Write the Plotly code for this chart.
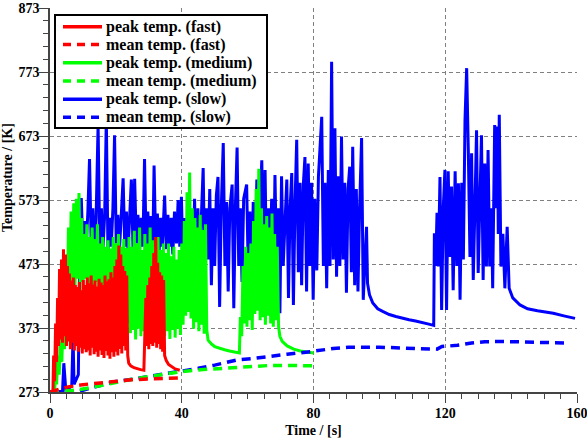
import plotly.graph_objects as go

# ---------------- data ----------------
fast_t = [0.0, 0.9, 1.1, 1.4, 1.7, 2.0, 2.3, 2.6, 2.9, 3.2, 3.5, 3.8, 4.1, 4.4, 4.7, 5.0, 5.3, 5.6, 5.9, 6.2,
          6.5, 6.8, 7.1, 7.4, 7.7, 8.0, 8.3, 8.6, 8.9, 9.2, 9.5, 9.8, 10.1, 10.4, 10.7, 11.0, 11.3, 11.6, 11.9,
          12.2, 12.5, 12.8, 13.1, 13.4, 13.7, 14.0, 14.3, 14.6, 14.9, 15.2, 15.5, 15.8, 16.1, 16.4, 16.7, 17.0,
          17.3, 17.6, 17.9, 18.2, 18.5, 18.8, 19.1, 19.4, 19.7, 20.0, 20.3, 20.6, 20.9, 21.2, 21.5, 21.8, 22.1,
          22.4, 22.7, 23.0, 23.3, 23.6, 23.9, 24.5, 25.5, 26.5, 27.5, 28.5, 28.8, 29.1, 29.4, 29.7, 30.0, 30.3,
          30.6, 30.9, 31.2, 31.5, 31.8, 32.1, 32.4, 32.7, 33.0, 33.3, 33.6, 33.9, 34.2, 34.5, 34.8, 35.3, 36.0,
          37.0, 38.0, 39.4]
fast_peak = [273, 274, 330, 290, 380, 320, 420, 345, 465, 355, 480, 350, 496, 360, 488, 345, 470, 352, 458, 340,
             447, 350, 452, 338, 440, 345, 437, 336, 445, 342, 432, 333, 448, 340, 440, 335, 452, 338, 443,
             330, 455, 342, 441, 332, 447, 336, 438, 328, 450, 338, 444, 331, 440, 326, 455, 337,
             446, 330, 449, 325, 460, 335, 452, 328, 470, 336, 480, 330, 502, 340, 488, 333, 470,
             345, 462, 338, 455, 330, 318, 314, 311, 309, 308, 307, 360, 420, 345, 440, 340, 452,
             348, 470, 345, 490, 350, 515, 342, 475, 348, 460, 340, 455, 336, 448, 330, 322, 316,
             312, 309, 307]

fast_mean_t = [0.0, 2.0, 5.5, 10.0, 14.6, 20.0, 24.7, 30.0, 34.8, 39.5]
fast_mean = [273, 276, 281, 284.5, 287, 290, 292, 293.5, 294.5, 295]

medium_t = [0.0, 1.4, 1.7, 2.0, 2.4, 2.8, 3.2, 3.6, 4.0, 4.4, 4.8, 5.2, 5.6, 6.0, 6.4, 6.8, 7.2, 7.6, 8.0, 8.4,
            8.8, 9.2, 9.6, 10.0, 10.4, 10.8, 11.2, 11.6, 12.0, 12.4, 12.8, 13.2, 13.6, 14.0, 14.4, 14.8, 15.2,
            15.6, 16.0, 16.4, 16.8, 17.2, 17.6, 18.0, 18.4, 18.8, 19.2, 19.6, 20.0, 20.4, 20.8, 21.2, 21.6, 22.0,
            22.4, 22.8, 23.2, 23.6, 24.0, 24.4, 24.8, 25.2, 25.6, 26.0, 26.4, 26.8, 27.2, 27.6, 28.0, 28.4, 28.8,
            29.2, 29.6, 30.0, 30.4, 30.8, 31.2, 31.6, 32.0, 32.4, 32.8, 33.2, 33.6, 34.0, 34.4, 34.8, 35.2, 35.6,
            36.0, 36.4, 36.8, 37.2, 37.6, 38.0, 38.4, 38.8, 39.2, 39.6, 40.0, 40.4, 40.8, 41.2, 41.6, 42.0, 42.4,
            42.8, 43.2, 43.6, 44.0, 44.4, 44.8, 45.2, 45.6, 46.0, 46.4, 46.8, 47.2, 47.6, 48.0, 49.0, 50.0, 51.5,
            53.0, 54.5, 56.0, 57.5, 57.8, 58.2, 58.6, 59.0, 59.4, 59.8, 60.2, 60.6, 61.0, 61.4, 61.8, 62.2, 62.6,
            63.0, 63.4, 63.8, 64.2, 64.6, 65.0, 65.4, 65.8, 66.2, 66.6, 67.0, 67.4, 67.8, 68.2, 68.6, 69.0, 69.4,
            69.8, 70.5, 72.0, 74.0, 76.0, 78.0, 80.0]
medium_peak = [273, 274, 300, 285, 330, 300, 360, 320, 390, 340, 470, 380, 530, 420, 555, 430, 568, 440, 575, 450,
               584, 445, 545, 430, 520, 450, 535, 420, 515, 440, 530, 425, 512, 445, 535, 430, 505,
               420, 515, 440, 500, 415, 510, 435, 497, 425, 515, 440, 505, 420, 520, 438, 500, 425,
               512, 400, 498, 380, 515, 365, 500, 370, 525, 355, 505, 372, 530, 360, 495, 368, 520,
               378, 505, 385, 530, 372, 510, 380, 500, 375, 515, 366, 495, 380, 505, 360, 490, 368,
               505, 356, 485, 370, 500, 358, 480, 372, 495, 362, 505, 378, 540, 392, 585, 398, 616,
               388, 560, 372, 545, 382, 530, 368, 550, 378, 526, 364, 535, 370, 354, 348, 344, 341,
               339, 337, 335, 334, 390, 360, 470, 380, 500, 375, 490, 385, 505, 370, 540, 395, 590,
               400, 622, 385, 560, 390, 535, 378, 548, 392, 530, 380, 552, 375, 520, 385, 500, 375,
               360, 352, 345, 340, 337, 335, 334]

medium_mean_t = [0.0, 4.0, 8.0, 12.0, 16.0, 20.0, 25.0, 30.0, 35.0, 40.0, 46.5, 51.0, 56.7, 61.7, 66.8, 72.0, 80.0]
medium_mean = [273, 274, 276, 279.5, 284, 288, 293, 297, 301, 305, 308, 309.5, 310.5, 313, 314.5, 314.5, 314]

slow_t = [0.0, 3.8, 4.2, 4.4, 4.8, 6.6, 7.0, 7.3, 8.6, 9.0, 9.5, 10.0, 10.5, 11.0, 11.5, 12.0, 12.5, 13.0, 13.5,
          14.0, 14.6, 15.1, 15.6, 16.1, 16.6, 17.1, 17.6, 18.1, 18.6, 19.1, 19.6, 20.1, 20.6, 21.1, 21.6, 22.2,
          22.7, 23.2, 23.7, 24.2, 24.7, 25.2, 25.7, 26.2, 26.7, 27.2, 27.7, 28.2, 28.7, 29.2, 29.7, 30.2, 30.7,
          31.2, 31.6, 32.1, 32.6, 33.1, 33.6, 34.1, 34.8, 35.3, 35.8, 36.3, 36.8, 37.3, 37.8, 38.4, 38.9, 39.4,
          39.9, 40.4, 40.9, 41.4, 41.9, 42.4, 42.9, 43.4, 43.9, 44.4, 44.9, 45.4, 46.0, 46.5, 47.0, 47.5, 48.0,
          48.5, 49.0, 49.5, 50.0, 50.5, 51.0, 51.5, 52.0, 52.6, 53.1, 53.6, 54.1, 54.6, 55.3, 55.8, 56.3, 56.8,
          57.3, 57.8, 58.3, 58.8, 59.7, 60.2, 60.7, 61.2, 61.7, 62.3, 62.8, 63.3, 63.8, 64.3, 64.8, 65.3, 65.8,
          66.3, 66.8, 67.3, 67.8, 68.3, 68.8, 69.3, 69.8, 70.3, 70.8, 71.4, 71.9, 72.4, 72.9, 73.4, 73.9, 74.4,
          74.9, 75.4, 75.9, 76.4, 76.9, 77.4, 77.9, 78.4, 78.9, 79.4, 79.9, 80.4, 81.0, 81.5, 82.0, 82.5, 83.0,
          83.5, 84.0, 84.5, 85.0, 85.5, 86.0, 86.5, 87.0, 87.5, 88.0, 88.5, 89.0, 89.5, 90.0, 90.5, 91.0, 91.5,
          91.9, 92.5, 93.0, 93.5, 94.0, 94.6, 95.1, 95.6, 96.1, 96.4, 97.0, 98.0, 99.5, 101.0, 103.0, 105.0,
          107.0, 109.0, 111.0, 113.0, 115.0, 116.5, 116.7, 117.1, 117.5, 117.9, 118.4, 118.9, 119.4, 119.9,
          120.4, 120.9, 121.4, 121.9, 122.4, 123.0, 123.5, 124.0, 124.5, 125.0, 125.5, 126.0, 126.5, 127.0,
          127.5, 128.0, 128.5, 129.0, 129.5, 130.0, 130.5, 131.0, 131.5, 132.0, 132.5, 133.0, 133.5, 134.0,
          134.4, 135.0, 135.5, 135.8, 136.1, 136.4, 136.9, 137.5, 138.1, 138.8, 139.4, 140.5, 142.7, 145.0,
          148.0, 152.8, 156.0, 159.4]
slow_peak = [273, 274, 318, 300, 276, 282, 360, 285, 300, 470, 576, 495, 540, 500, 555, 637, 505, 560, 495,
             545, 690, 500, 560, 498, 550, 700, 490, 545, 500, 560, 674, 505, 550, 495, 545, 607,
             500, 555, 492, 540, 605, 498, 606, 505, 550, 495, 545, 500, 637, 498, 555, 502, 548,
             495, 627, 500, 552, 490, 545, 500, 580, 496, 550, 500, 545, 488, 555, 505, 573, 500,
             578, 470, 545, 455, 560, 420, 550, 480, 575, 410, 560, 470, 565, 623, 455, 560, 480,
             590, 440, 560, 470, 580, 609, 406, 560, 662, 470, 570, 430, 560, 597, 404, 565, 655,
             470, 560, 445, 575, 597, 460, 555, 420, 570, 480, 605, 455, 565, 635, 470, 620, 440,
             560, 480, 575, 430, 612, 470, 560, 396, 610, 470, 560, 605, 420, 560, 615, 409, 570,
             667, 460, 600, 440, 596, 640, 430, 630, 470, 600, 417, 575, 463, 610, 656, 703, 470,
             600, 435, 620, 470, 789, 480, 685, 453, 610, 470, 672, 480, 600, 428, 590, 625, 460,
             656, 440, 590, 430, 560, 670, 417, 470, 531, 443, 425, 412, 403, 399, 394, 391,
             388, 386, 384, 381, 379, 377, 521, 470, 553, 469, 609, 401, 560, 620,
             401, 618, 484, 594, 432, 618, 470, 599, 417, 600, 480, 698, 779, 651,
             484, 646, 448, 560, 682, 459, 590, 674, 448, 630, 469, 651, 469, 560,
             435, 690, 560, 688, 520, 706, 469, 520, 435, 531, 435, 420, 409, 403,
             400, 396, 392, 388]

slow_mean_t = [0.0, 5.0, 9.0, 12.0, 15.0, 19.6, 25.0, 29.8, 35.0, 39.9, 45.0, 50.0, 56.7, 62.0, 66.8, 72.0, 79.0,
               82.0, 86.0, 90.5, 100.0, 111.0, 117.5, 119.0, 123.7, 128.0, 132.0, 137.0, 142.0, 150.0, 157.0]
slow_mean = [273, 273, 274, 279, 283.5, 289, 293, 297, 301, 305, 310, 315, 323, 325.5, 328, 332, 336,
             338.6, 341, 343, 343, 341, 340, 344, 346, 349.5, 351.6, 352, 351.6, 350.5, 349.5]

legend_labels = ["peak temp. (fast)", "mean temp. (fast)", "peak temp. (medium)",
                 "mean temp. (medium)", "peak temp. (slow)", "mean temp. (slow)"]
x_ticks = [0, 40, 80, 120, 160]
y_ticks = [273, 373, 473, 573, 673, 773, 873]

# ---------------- styles ----------------
RED, GREEN, BLUE = "#ff0000", "#00ff00", "#0000ff"
DASH = "9px,6px"
FONT = "Liberation Serif"

fig = go.Figure()
# drawing order: slow below medium below fast
for t, y, col, name in [(slow_t, slow_peak, BLUE, legend_labels[4]),
                        (medium_t, medium_peak, GREEN, legend_labels[2]),
                        (fast_t, fast_peak, RED, legend_labels[0])]:
    fig.add_trace(go.Scatter(x=t, y=y, mode="lines", name=name, showlegend=False,
                             line=dict(color=col, width=3)))
for t, y, col, name in [(slow_mean_t, slow_mean, BLUE, legend_labels[5]),
                        (medium_mean_t, medium_mean, GREEN, legend_labels[3]),
                        (fast_mean_t, fast_mean, RED, legend_labels[1])]:
    fig.add_trace(go.Scatter(x=t, y=y, mode="lines", name=name, showlegend=False,
                             line=dict(color=col, width=3.5, dash=DASH)))

# ---------------- manual legend (pixel layout) ----------------
L, R, T, B = 50, 577, 8, 392
def px(x):
    return (x - L) / (R - L)
def py(y):
    return (B - y) / (B - T)

shapes = [dict(type="rect", xref="paper", yref="paper", x0=px(55), x1=px(267), y0=py(15), y1=py(128),
               fillcolor="white", line=dict(color="black", width=2), layer="above")]
annotations = []
row_y = [26.7, 44.5, 62.7, 81.0, 99.3, 117.3]
row_col = [RED, RED, GREEN, GREEN, BLUE, BLUE]
row_dash = ["solid", "8px,6px", "solid", "8px,6px", "solid", "8px,6px"]
for lab, yy, col, dsh in zip(legend_labels, row_y, row_col, row_dash):
    shapes.append(dict(type="line", xref="paper", yref="paper", x0=px(63), x1=px(102), y0=py(yy), y1=py(yy),
                       line=dict(color=col, width=3.5, dash=dsh), layer="above"))
    annotations.append(dict(text=lab, xref="paper", yref="paper", x=px(104), y=py(yy), xanchor="left",
                            yanchor="middle", showarrow=False,
                            font=dict(family=FONT, size=16, color="black", weight="bold")))

annotations.append(dict(text="Temperature / [K]", xref="paper", yref="paper", x=px(7), y=py(178),
                        xanchor="center", yanchor="middle", textangle=-90, showarrow=False,
                        font=dict(family=FONT, size=14, color="black", weight="bold")))

axis_common = dict(showgrid=True, gridcolor="#808080", griddash="4px,3px", gridwidth=1,
                   showline=True, linecolor="#444444", linewidth=1.5, ticks="outside", ticklen=9,
                   tickcolor="#444444", tickwidth=1.2, zeroline=False, ticklabeloverflow="allow",
                   automargin=False,
                   tickfont=dict(family=FONT, size=14, color="black", weight="bold"))

fig.update_layout(
    width=587, height=438, margin=dict(l=L, r=587 - R, t=T, b=438 - B, autoexpand=False),
    paper_bgcolor="white", plot_bgcolor="white", showlegend=False,
    font=dict(family=FONT),
    shapes=shapes, annotations=annotations,
    xaxis=dict(range=[0, 160], tickvals=x_ticks, ticklabelstandoff=-2,
               minor=dict(dtick=5, tick0=0, ticks="outside", ticklen=5, tickcolor="#444444", showgrid=False),
               title=dict(text="Time / [s]", standoff=6,
                          font=dict(family=FONT, size=14, color="black", weight="bold")),
               **axis_common),
    yaxis=dict(range=[273, 873], tickvals=y_ticks, ticklabelstandoff=-3,
               minor=dict(dtick=20, tick0=273, ticks="outside", ticklen=5, tickcolor="#444444", showgrid=False),
               **axis_common),
)

fig.write_html("out.html")
